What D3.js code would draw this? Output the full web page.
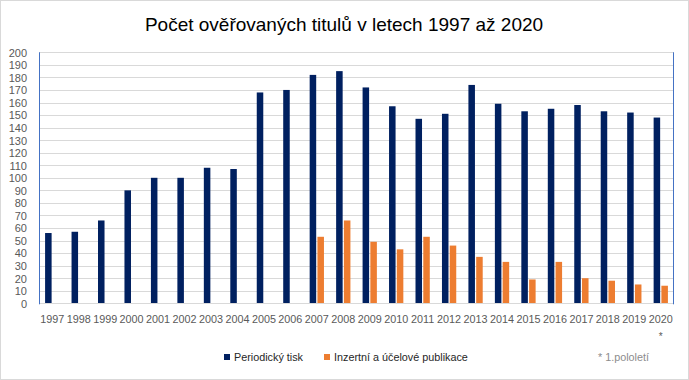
<!DOCTYPE html>
<html><head><meta charset="utf-8">
<script src="https://cdn.jsdelivr.net/npm/d3@7"></script>
<style>body{margin:0;background:#fff}svg{display:block}</style>
</head><body>
<svg id="c" width="689" height="380"></svg>
<script>
const years = ["1997","1998","1999","2000","2001","2002","2003","2004","2005","2006","2007","2008","2009","2010","2011","2012","2013","2014","2015","2016","2017","2018","2019","2020"];
const periodicky = [56,57,66,90,100,100,108,107,168,170,182,185,172,157,147,151,174,159,153,155,158,153,152,148];
const inzertni = [null,null,null,null,null,null,null,null,null,null,53,66,49,43,53,46,37,33,19,33,20,18,15,14];
const seriesNames = ["Periodický tisk","Inzertní a účelové publikace"];
const colors = ["#002060","#ED7D31"];
const yTicks = d3.range(0,201,10);

const svg = d3.select("#c");
const font = "'Liberation Sans', Arial, sans-serif";
svg.append("rect").attr("x",0.5).attr("y",0.5).attr("width",688).attr("height",379).attr("fill","#fff").attr("stroke","#d9d9d9");

const L=39, R=674, T=52.3, B=303.3;
const x = d3.scaleBand().domain(years).range([L,R]);
const x1 = d3.scaleBand().domain([0,1]).range([x.bandwidth()*0.23, x.bandwidth()*0.77]).paddingInner(0.16);
const y = d3.scaleLinear().domain([0,200]).range([B,T]);

// gridlines
svg.append("g").selectAll("line").data(yTicks.filter(d=>d>0)).join("line")
  .attr("x1",L).attr("x2",R).attr("y1",d=>Math.round(y(d))+0.5).attr("y2",d=>Math.round(y(d))+0.5)
  .attr("stroke","#d9d9d9").attr("stroke-width",1);

// bars
[periodicky, inzertni].forEach((vals,si)=>{
  svg.append("g").selectAll("rect").data(years.map((yr,i)=>({yr,v:vals[i]})).filter(d=>d.v!=null)).join("rect")
    .attr("x",d=>x(d.yr)+x1(si)).attr("width",x1.bandwidth())
    .attr("y",d=>y(d.v)).attr("height",d=>B-y(d.v)).attr("fill",colors[si]);
});

// axis lines
svg.append("line").attr("x1",L).attr("x2",R).attr("y1",Math.round(B)+0.5).attr("y2",Math.round(B)+0.5).attr("stroke","#d9d9d9");
svg.append("line").attr("x1",L+0.5).attr("x2",L+0.5).attr("y1",T).attr("y2",B+1).attr("stroke","#4472C4");
svg.append("line").attr("x1",R-0.5).attr("x2",R-0.5).attr("y1",T).attr("y2",B+1).attr("stroke","#4472C4");

// y axis labels
const yAxis = d3.axisLeft(y).tickValues(yTicks).tickSize(0).tickPadding(0);
const gy = svg.append("g").attr("transform","translate(27,0)").call(yAxis);
gy.select(".domain").remove();
gy.selectAll("text").attr("font-family",font).attr("font-size","11px").attr("fill","#595959").attr("dy","0.35em");

// x axis labels
const xAxis = d3.axisBottom(x).tickSize(0).tickPadding(0);
const gx = svg.append("g").attr("transform",`translate(0,${B+11})`).call(xAxis);
gx.select(".domain").remove();
gx.selectAll("text").attr("font-family",font).attr("font-size","10.8px").attr("fill","#595959").attr("dy","0.8em");

svg.append("text").attr("x",x("2020")+x.bandwidth()/2).attr("y",340).attr("text-anchor","middle")
  .attr("font-family",font).attr("font-size","10px").attr("fill","#595959").text("*");

// title
svg.append("text").attr("x",344).attr("y",31).attr("text-anchor","middle")
  .attr("font-family",font).attr("font-size","19px").attr("fill","#000").text("Počet ověřovaných titulů v letech 1997 až 2020");

// legend
const legX = [224, 324];
seriesNames.forEach((n,i)=>{
  svg.append("rect").attr("x",legX[i]).attr("y",354).attr("width",6).attr("height",6).attr("fill",colors[i]);
  svg.append("text").attr("x",legX[i]+10).attr("y",361).attr("font-family",font).attr("font-size","10.8px").attr("fill","#262626").text(n);
});
svg.append("text").attr("x",598).attr("y",361).attr("font-family",font).attr("font-size","10.8px").attr("fill","#8c8c8c").text("* 1.pololetí");
</script>
</body></html>
